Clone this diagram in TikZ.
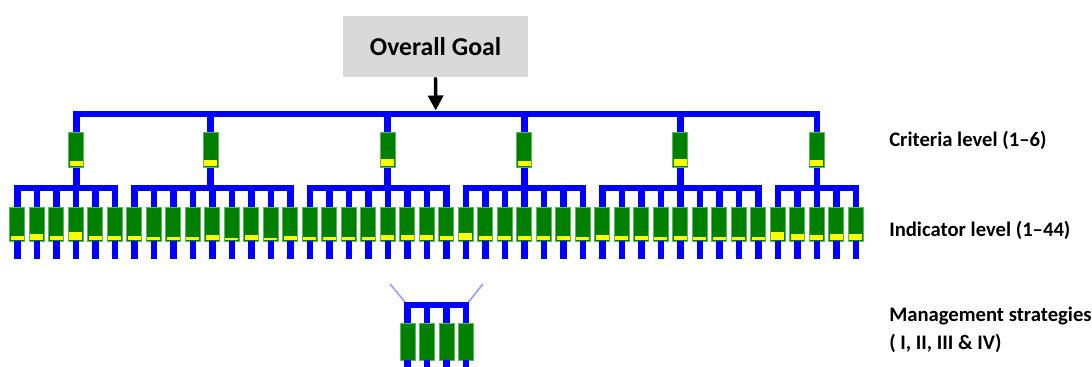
\documentclass[tikz,border=0pt]{standalone}
\usepackage{fontspec}
\setmainfont{Carlito}
\usetikzlibrary{arrows.meta,calc}
\pgfdeclarelayer{background}
\pgfsetlayers{background,main}

\definecolor{boxgreen}{RGB}{0,128,0}
\definecolor{edgegreen}{RGB}{90,185,90}
\definecolor{busblue}{RGB}{0,0,255}
\definecolor{faintblue}{RGB}{160,160,255}
\definecolor{goalgray}{RGB}{217,217,217}
\definecolor{barfill}{RGB}{255,255,0}

\tikzset{
  x=0.75pt, y=-0.75pt,
  indbox/.style={draw=edgegreen, line width=0.6pt, fill=boxgreen,
    minimum width=11.25pt, minimum height=25.5pt, inner sep=0pt},
  critbox/.style={indbox, minimum height=26.25pt},
  stratbox/.style={indbox, minimum height=27.4pt},
  goalbox/.style={fill=goalgray, minimum width=138.75pt, minimum height=45.75pt,
    inner sep=0pt, font=\fontsize{19.3pt}{23pt}\selectfont\bfseries},
  levellabel/.style={anchor=base west, inner sep=0pt,
    font=\fontsize{15.5pt}{18pt}\selectfont\bfseries},
  bus/.style={draw=busblue, line width=4.9pt},
  leg/.style={draw=busblue, line width=4.9pt},
  faint/.style={draw=faintblue, line width=1.3pt},
  ybar/.style={fill=barfill},
  goalarrow/.style={draw=black, line width=2.6pt,
    -{Triangle[length=11.25pt,width=11.25pt]}}
}

\begin{document}
\begin{tikzpicture}
\useasboundingbox (0,0) rectangle (1092,367);

% goal box and the bus it feeds
\node[goalbox] (goal) at (435.5,46.5) {Overall Goal};
\coordinate (hub) at (435.7,114);
\coordinate (hubtop) at (435.7,110.5);
\draw[goalarrow] (goal.south) -- (hubtop);

% criteria, each with its score bar
\foreach \cx/\h [count=\c] in {76.3/4.7,210.5/6.3,387.7/7,524.3/4.7,680.3/7,816.8/6}{
  \node[critbox] (crit\c) at (\cx,150) {};
  \fill[ybar] ($(crit\c.south west)+(1.3,-2)$) rectangle ($(crit\c.south east)+(-1.3,-2-\h)$);
}

% indicators, each with its score bar and a leg below
\foreach \h [count=\i] in {4.3,6.3,4.3,8,3.7,3.7,4.3,3,3,3,5.3,2.3,5.3,2.3,3.7,
  3.3,3.3,3.3,3.3,4.7,5.3,4.7,4.3,7.3,4.3,3.7,3.7,4.3,4.3,3,5.3,4.3,3.7,3.3,4,
  3.3,3.3,3.3,3.3,8.3,6.3,4.7,5.7,6.3}{
  \pgfmathsetmacro\xx{17.3+(\i-1)*19.5}
  \node[indbox] (ind\i) at (\xx,224) {};
  \fill[ybar] ($(ind\i.south west)+(1.3,-1.5)$) rectangle ($(ind\i.south east)+(-1.3,-1.5-\h)$);
  \draw[leg] (ind\i.south) -- ++(0,18);
}

% management strategies
\foreach \k in {1,...,4}{
  \pgfmathsetmacro\xx{407.5+(\k-1)*19.5}
  \node[stratbox] (strat\k) at (\xx,341.7) {};
  \draw[leg] (strat\k.south) -- ++(0,12);
}
\coordinate (mhub) at (436.75,305);
\coordinate (fleft) at (390,284);
\coordinate (fright) at (483,284);

\begin{pgfonlayer}{background}
  % top bus to the criteria
  \foreach \c in {1,...,6}
    \draw[bus] (hub) -| (crit\c.north);
  % criterion brackets to their indicators
  \foreach \c/\a/\b in {1/1/6,2/7/15,3/16/23,4/24/30,5/31/39,6/40/44}{
    \foreach \k in {\a,...,\b}
      \draw[bus] (crit\c.south) -- ++(0,20) -| (ind\k.north);
  }
  % strategy bracket
  \draw[faint] (fleft) -- (strat1.north |- mhub);
  \draw[faint] (fright) -- (strat4.north |- mhub);
  \foreach \k in {1,...,4}
    \draw[bus] (mhub) -| (strat\k.north);
\end{pgfonlayer}

% level labels
\node[levellabel] (lcrit) at (889,146.5) {Criteria level (1–6)};
\node[levellabel] (lind) at (889,236.5) {Indicator level (1–44)};
\node[levellabel] (lman) at (889,321.5) {Management strategies};
\node[levellabel] (lmannum) at (889,349) {( I, II, III \& IV)};
\end{tikzpicture}
\end{document}
